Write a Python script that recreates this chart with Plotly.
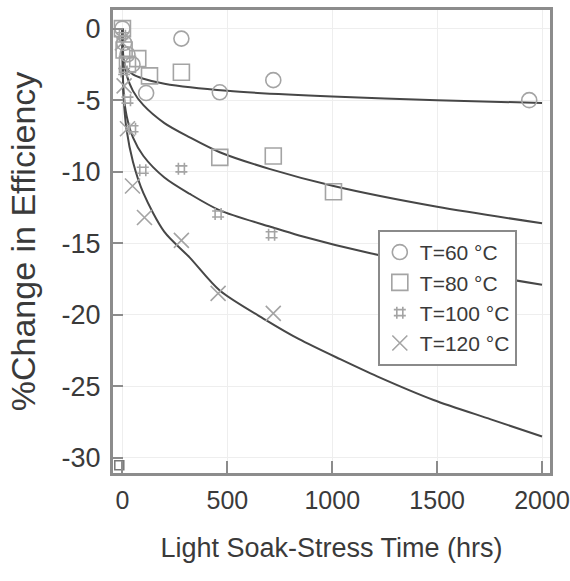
import plotly.graph_objects as go

t60 = [0, 8, 24, 48, 113, 281, 464, 719, 1939]
y60 = [0, -1.0, -1.8, -2.5, -4.5, -0.7, -4.45, -3.6, -5.0]

t80 = [0, 8, 24, 73, 129, 281, 464, 719, 1006]
y80 = [0, -1.5, -2.5, -2.1, -3.3, -3.05, -9.0, -8.9, -11.4]

t100 = [0, 8, 24, 48, 97, 281, 456, 711]
y100 = [-0.5, -3.0, -5.0, -7.0, -9.9, -9.8, -12.95, -14.4]

t120 = [0, 8, 24, 48, 105, 281, 456, 719]
y120 = [-1.0, -4.0, -7.0, -11.0, -13.2, -14.8, -18.5, -19.9]

# ---- fitted curves ----
ft60 = [0, 5, 20, 50, 100, 200, 500, 1000, 1500, 2000]
fy60 = [0, -2.3, -2.8, -3.2, -3.5, -3.85, -4.35, -4.75, -5.0, -5.2]

ft80 = [0, 5, 20, 50, 100, 200, 321, 464, 700, 1006, 1500, 2000]
fy80 = [0, -2.1, -3.25, -4.35, -5.35, -6.6, -7.6, -8.64, -9.8, -11.0, -12.45, -13.6]

ft100 = [0, 5, 20, 50, 100, 200, 321, 464, 718, 842, 1182, 1500, 2000]
fy100 = [0, -4.4, -6.1, -7.6, -8.9, -10.4, -11.55, -12.7, -13.9, -14.45, -15.7, -16.65, -17.9]

ft120 = [0, 5, 20, 50, 100, 200, 321, 464, 688, 842, 1038, 1214, 1483, 1756, 2000]
fy120 = [0, -4.6, -7.1, -9.3, -11.5, -14.2, -16.0, -18.3, -20.4, -21.7, -23.1, -24.3, -25.95, -27.3, -28.5]

odd_t = [-15]
odd_y = [-30.5]

labels = ["T=60 °C", "T=80 °C", "T=100 °C", "T=120 °C"]
xticks = [0, 500, 1000, 1500, 2000]
yticks = [0, -5, -10, -15, -20, -25, -30]
yticktext = ["0", "-5", "-10", "-15", "-20", "-25", "-30"]

SANS = "Liberation Sans, Arial, Helvetica"
MCOL = "#a4a4a4"
LCOL = "#474747"
TCOL = "#3a3a3a"

fig = go.Figure()

for ft, fy in [(ft60, fy60), (ft80, fy80), (ft100, fy100), (ft120, fy120)]:
    fig.add_trace(go.Scatter(x=ft, y=fy, mode="lines",
                             line=dict(color=LCOL, width=2, shape="spline", smoothing=0.8),
                             showlegend=False, hoverinfo="skip"))

series = [(t60, y60, "circle-open", 15), (t80, y80, "square-open", 16),
          (t100, y100, "hash-open", 12), (t120, y120, "x-thin-open", 15)]
for (tx, ty, sym, sz), lab in zip(series, labels):
    fig.add_trace(go.Scatter(x=tx, y=ty, mode="markers", name=lab,
                             marker=dict(symbol=sym, size=sz, color=MCOL,
                                         line=dict(color=MCOL, width=1.6))))

fig.add_trace(go.Scatter(x=odd_t, y=odd_y, mode="markers", showlegend=False,
                         marker=dict(symbol="square-open", size=9, color="#777",
                                     line=dict(color="#777", width=1.5))))

fig.update_layout(
    width=570, height=581,
    margin=dict(l=113, r=20, t=10, b=108),
    paper_bgcolor="white", plot_bgcolor="white",
    font=dict(family=SANS, color=TCOL),
    legend=dict(x=0.606, y=0.525, xanchor="left", yanchor="top",
                bgcolor="white", bordercolor="#8a8a8a", borderwidth=2,
                font=dict(family=SANS, size=21, color=TCOL),
                tracegroupgap=0, itemwidth=30),
    xaxis=dict(range=[-45, 2038], tickvals=xticks, ticks="inside", ticklen=12, tickwidth=2,
               tickcolor="#8c8c8c", showline=True, linewidth=3, linecolor="#8c8c8c", mirror=True,
               showgrid=True, gridcolor="#eeeeee", gridwidth=1, zeroline=False, automargin=False,
               tickfont=dict(family=SANS, size=25, color=TCOL), ticklabelstandoff=3,
               title=dict(text="Light Soak-Stress Time (hrs)", standoff=26,
                          font=dict(family=SANS, size=27, color=TCOL))),
    yaxis=dict(range=[-31.05, 1.3], tickvals=yticks, ticktext=yticktext, ticks="inside", ticklen=10,
               tickwidth=2, tickcolor="#8c8c8c", showline=True, linewidth=3, linecolor="#8c8c8c",
               mirror=True, showgrid=True, gridcolor="#eeeeee", gridwidth=1, zeroline=False,
               automargin=False,
               tickfont=dict(family=SANS, size=27, color=TCOL), ticklabelstandoff=4,
               title=dict(text="%Change in Efficiency", standoff=16,
                          font=dict(family=SANS, size=34, color=TCOL))),
)

fig.write_html("out.html")
